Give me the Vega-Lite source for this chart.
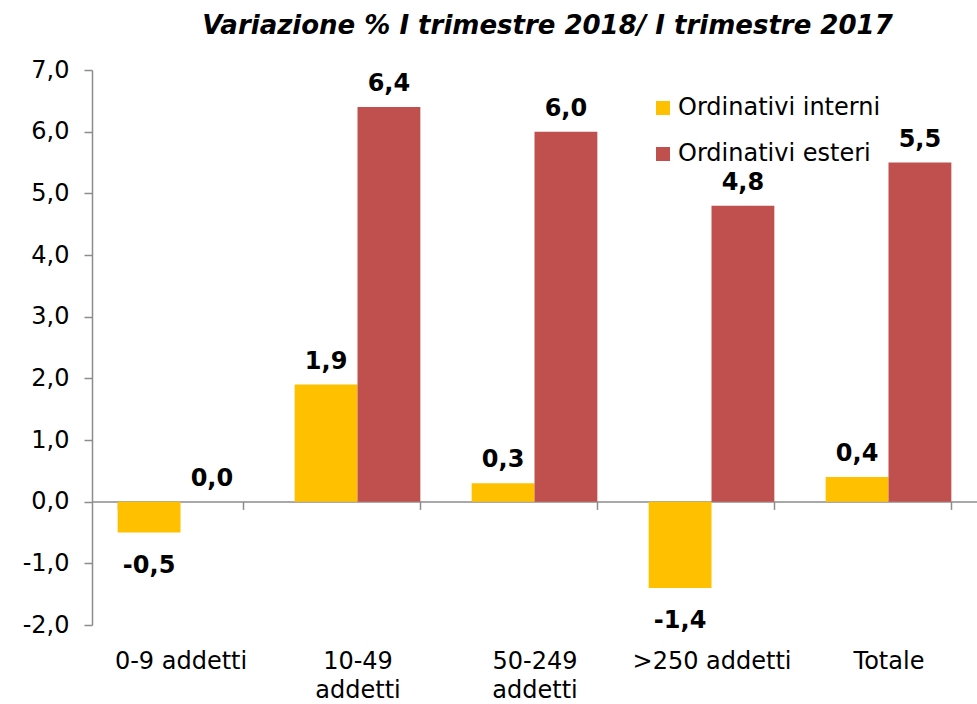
{
  "$schema": "https://vega.github.io/schema/vega-lite/v6.json",
  "width": 885,
  "height": 555,
  "autosize": {"type": "none"},
  "padding": {"left": 92, "top": 70, "right": 0, "bottom": 79},
  "background": "white",
  "config": {
    "locale": {"number": {"decimal": ",", "thousands": ".", "grouping": [3], "currency": ["", " €"], "minus": "-"}},
    "view": {"stroke": null},
    "font": "DejaVu Sans"
  },
  "title": {
    "text": "Variazione % I trimestre 2018/ I trimestre 2017",
    "font": "DejaVu Sans",
    "fontSize": 26,
    "fontWeight": "bold",
    "fontStyle": "italic",
    "color": "#000000",
    "anchor": "middle",
    "frame": "group",
    "baseline": "bottom",
    "offset": -7,
    "dx": 13
  },
  "data": {
    "values": [
      {"classe": "0-9 addetti", "serie": "Ordinativi interni", "valore": -0.5},
      {"classe": "0-9 addetti", "serie": "Ordinativi esteri", "valore": 0.0},
      {"classe": "10-49 addetti", "serie": "Ordinativi interni", "valore": 1.9},
      {"classe": "10-49 addetti", "serie": "Ordinativi esteri", "valore": 6.4},
      {"classe": "50-249 addetti", "serie": "Ordinativi interni", "valore": 0.3},
      {"classe": "50-249 addetti", "serie": "Ordinativi esteri", "valore": 6.0},
      {"classe": ">250 addetti", "serie": "Ordinativi interni", "valore": -1.4},
      {"classe": ">250 addetti", "serie": "Ordinativi esteri", "valore": 4.8},
      {"classe": "Totale", "serie": "Ordinativi interni", "valore": 0.4},
      {"classe": "Totale", "serie": "Ordinativi esteri", "valore": 5.5}
    ]
  },
  "encoding": {
    "x": {
      "field": "classe",
      "type": "nominal",
      "sort": ["0-9 addetti", "10-49 addetti", "50-249 addetti", ">250 addetti", "Totale"],
      "scale": {"paddingInner": 0.29, "paddingOuter": 0.145},
      "axis": {
        "title": null,
        "labelAngle": 0,
        "offset": -123.6,
        "domainColor": "#8c8c8c",
        "domainWidth": 1.5,
        "tickColor": "#8c8c8c",
        "tickWidth": 1.5,
        "tickSize": 8,
        "tickBand": "extent",
        "labelPadding": 140,
        "labelBaseline": "top",
        "labelFont": "DejaVu Sans",
        "labelFontSize": 24,
        "labelColor": "#000000",
        "labelLineHeight": 29,
        "labelOverlap": false,
        "labelLimit": 300,
        "labelExpr": "datum.label == '10-49 addetti' || datum.label == '50-249 addetti' ? split(datum.label, ' ') : datum.label"
      }
    },
    "xOffset": {
      "field": "serie",
      "type": "nominal",
      "scale": {"domain": ["Ordinativi interni", "Ordinativi esteri"], "paddingInner": 0, "paddingOuter": 0}
    },
    "y": {
      "field": "valore",
      "type": "quantitative",
      "scale": {"domain": [-2, 7], "nice": false, "zero": false},
      "axis": {
        "title": null,
        "values": [-2, -1, 0, 1, 2, 3, 4, 5, 6, 7],
        "format": ".1f",
        "grid": false,
        "domainColor": "#8c8c8c",
        "domainWidth": 1.5,
        "tickColor": "#8c8c8c",
        "tickWidth": 1.5,
        "tickSize": 8,
        "labelPadding": 15,
        "labelFont": "DejaVu Sans",
        "labelFontSize": 24,
        "labelColor": "#000000"
      }
    }
  },
  "layer": [
    {
      "mark": {"type": "bar"},
      "encoding": {
        "color": {
          "field": "serie",
          "type": "nominal",
          "scale": {"domain": ["Ordinativi interni", "Ordinativi esteri"], "range": ["#FFC000", "#C0504D"]},
          "legend": {
            "title": null,
            "orient": "none",
            "legendX": 559,
            "legendY": 26,
            "padding": 0,
            "symbolType": "square",
            "symbolSize": 196,
            "symbolStrokeWidth": 0,
            "labelFont": "DejaVu Sans",
            "labelFontSize": 24,
            "labelColor": "#000000",
            "labelOffset": 3,
            "labelLimit": 400,
            "rowPadding": 22,
            "labelExpr": "datum.label == 'Ordinativi esteri' ? ' ' + datum.label : datum.label"
          }
        }
      }
    },
    {
      "transform": [{"filter": "datum.valore >= 0"}],
      "mark": {"type": "text", "baseline": "alphabetic", "dy": -16, "fontSize": 24, "fontWeight": "bold", "font": "DejaVu Sans", "color": "#000000"},
      "encoding": {
        "text": {"field": "valore", "type": "quantitative", "format": ".1f"}
      }
    },
    {
      "transform": [{"filter": "datum.valore < 0"}],
      "mark": {"type": "text", "baseline": "alphabetic", "dy": 40, "fontSize": 24, "fontWeight": "bold", "font": "DejaVu Sans", "color": "#000000"},
      "encoding": {
        "text": {"field": "valore", "type": "quantitative", "format": ".1f"}
      }
    }
  ]
}
